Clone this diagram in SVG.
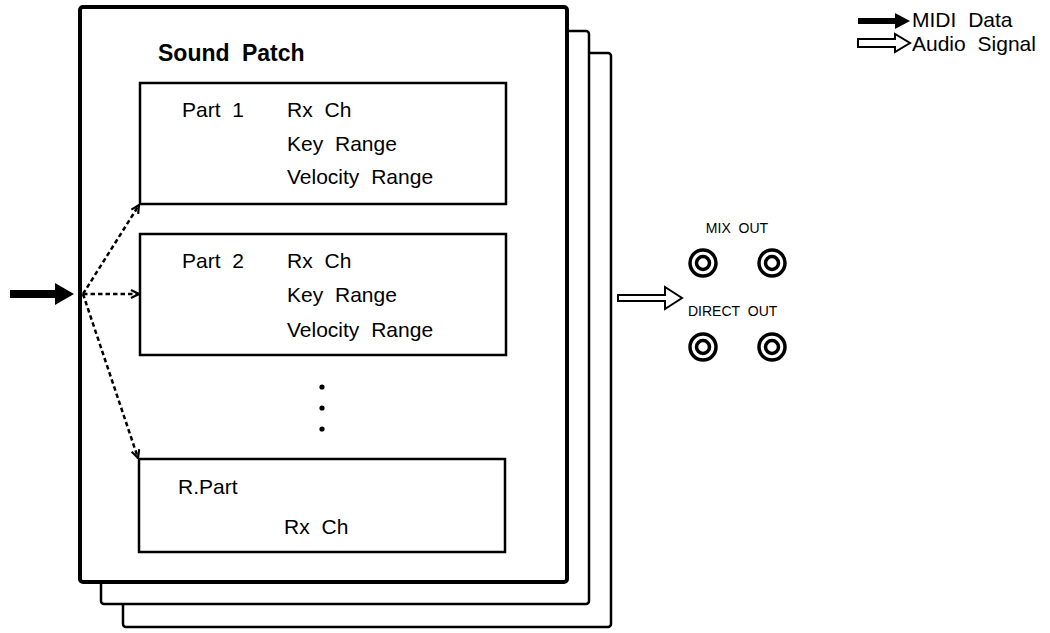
<svg xmlns="http://www.w3.org/2000/svg" width="1050" height="633" viewBox="0 0 1050 633">
<style>
text{font-family:"Liberation Sans",Arial,sans-serif;fill:#000}
.t{font-size:21px;word-spacing:6px}
.b{font-size:23px;font-weight:bold;word-spacing:6px}
.s{font-size:14px;word-spacing:4px}
.lg{font-size:21px;word-spacing:6px}
.box{fill:#fff;stroke:#000;stroke-width:2.5}
.main{fill:#fff;stroke:#000;stroke-width:4}
.dash{fill:none;stroke:#000;stroke-width:2.5;stroke-dasharray:4.5 3}
.jo{fill:none;stroke:#000;stroke-width:3.5}
</style>
<defs>
<marker id="open" viewBox="0 0 10 10" refX="9" refY="5" markerWidth="10" markerHeight="10" markerUnits="userSpaceOnUse" orient="auto">
<path d="M1,1 L9,5 L1,9" fill="none" stroke="#000" stroke-width="2.2"/>
</marker>
</defs>
<g id="stack">
<rect x="123" y="53" width="488" height="574" rx="3" class="box"/>
<rect x="101" y="31" width="488" height="573" rx="3" class="box"/>
</g>
<g id="sound-patch">
<rect x="80" y="7" width="487" height="575" rx="3" class="main"/>
<text x="158" y="61" class="b">Sound Patch</text>
</g>
<g id="part1">
<rect x="140" y="83" width="366" height="121" class="box"/>
<text x="182" y="117" class="t">Part 1</text>
<text x="287" y="117" class="t">Rx Ch</text>
<text x="287" y="151" class="t">Key Range</text>
<text x="287" y="184" class="t">Velocity Range</text>
</g>
<g id="part2">
<rect x="140" y="234" width="366" height="121" class="box"/>
<text x="182" y="268" class="t">Part 2</text>
<text x="287" y="268" class="t">Rx Ch</text>
<text x="287" y="302" class="t">Key Range</text>
<text x="287" y="337" class="t">Velocity Range</text>
</g>
<g id="dots">
<circle cx="322" cy="387" r="2.6"/>
<circle cx="322" cy="408" r="2.6"/>
<circle cx="322" cy="429" r="2.6"/>
</g>
<g id="rpart">
<rect x="139" y="459" width="366" height="93" class="box"/>
<text x="178" y="494" class="t">R.Part</text>
<text x="284" y="534" class="t">Rx Ch</text>
</g>
<g id="outputs">
<text x="737" y="233" class="s" text-anchor="middle">MIX OUT</text>
<text x="688" y="316" class="s">DIRECT OUT</text>
<circle cx="703" cy="263" r="13" class="jo"/><circle cx="703" cy="263" r="6.5" class="jo"/>
<circle cx="772" cy="263" r="13" class="jo"/><circle cx="772" cy="263" r="6.5" class="jo"/>
<circle cx="703" cy="347" r="13" class="jo"/><circle cx="703" cy="347" r="6.5" class="jo"/>
<circle cx="772" cy="347" r="13" class="jo"/><circle cx="772" cy="347" r="6.5" class="jo"/>
</g>
<g id="legend">
<path d="M858,18 L895,18 L895,13 L910,21 L895,29 L895,24 L858,24 Z" fill="#000"/>
<text x="912" y="27" class="lg">MIDI Data</text>
<path d="M858,39 L895,39 L895,34 L910,43 L895,52 L895,47 L858,47 Z" fill="#fff" stroke="#000" stroke-width="2"/>
<text x="912" y="51" class="lg">Audio Signal</text>
</g>
<g id="connectors">
<path d="M10,290 L55,290 L55,283 L74,294 L55,305 L55,298 L10,298 Z" fill="#000"/>
<path d="M83,294 L139,205" class="dash" marker-end="url(#open)"/>
<path d="M83,294 L139,294" class="dash" marker-end="url(#open)"/>
<path d="M83,294 L138,458" class="dash" marker-end="url(#open)"/>
<path d="M618,295 L665,295 L665,287 L682,298 L665,309 L665,301 L618,301 Z" fill="#fff" stroke="#000" stroke-width="2"/>
</g>
</svg>
